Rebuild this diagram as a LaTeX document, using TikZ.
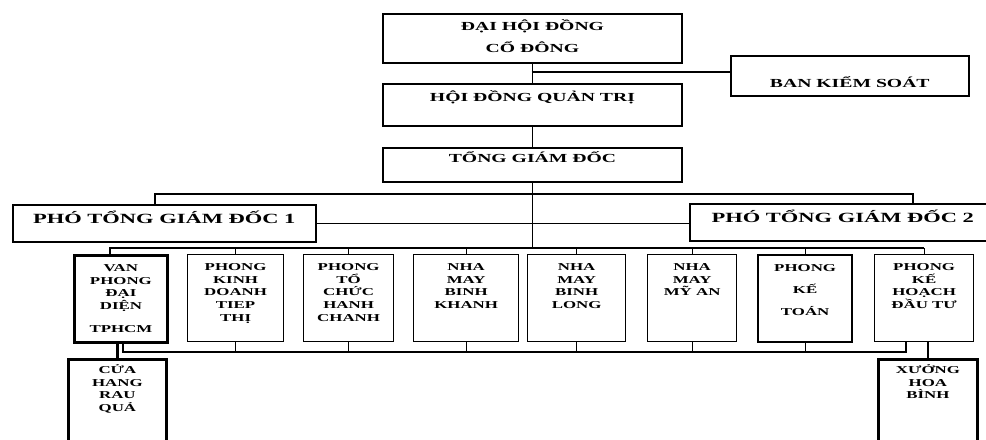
\documentclass[tikz,border=0pt]{standalone}
\usepackage{fontspec}
\setmainfont[FakeStretch=1.6]{Liberation Serif}
\newlength{\px}
\setlength{\px}{0.02cm}
% box text: height, width, top gap (all in px), lines
\newcommand{\boxtxt}[4]{\parbox[c][#1\px][t]{#2\px}{\centering\vspace*{#3\px}\rule{0pt}{1em}#4}}
\tikzset{
  orgbox/.style={draw, line width=1.1pt, inner sep=0pt, anchor=north west},
  topbox/.style={orgbox, font=\fontsize{7}{13}\selectfont\bfseries},
  vpbox/.style={orgbox, line width=0.9pt, font=\fontsize{8}{9.6}\selectfont\bfseries},
  deptbox/.style={orgbox, line width=0.7pt, font=\fontsize{6}{7.2}\selectfont\bfseries},
  heavy/.style={line width=1.6pt},
  wire/.style={line width=0.6pt},
}
\begin{document}
\begin{tikzpicture}[x=0.02cm, y=-0.02cm]
    \useasboundingbox[fill=white] (0,0) rectangle (986,439);
    % board level
    \node[topbox] (dh) at (382,13) {\boxtxt{49}{299}{3.8}{ĐẠI HỘI ĐỒNG\\CỔ ĐÔNG}};
    \node[topbox] (hd) at (382,83) {\boxtxt{42}{299}{4.8}{HỘI ĐỒNG QUẢN TRỊ}};
    \node[topbox, line width=0.9pt] (bks) at (730,55) {\boxtxt{40}{238}{19}{BAN KIỂM SOÁT}};
    \node[topbox] (tgd) at (382,147) {\boxtxt{34}{299}{1.8}{TỔNG GIÁM ĐỐC}};
    \node[vpbox] (p1) at (12,204) {\boxtxt{37}{303}{4.2}{PHÓ TỔNG GIÁM ĐỐC 1}};
    \node[vpbox] (p2) at (689,203) {\boxtxt{37}{306}{4.2}{PHÓ TỔNG GIÁM ĐỐC 2}};
    % departments
    \node[deptbox, heavy] (d1) at (73,254) {\boxtxt{87}{93}{5.4}{VAN\\PHONG\\ĐẠI\\DIỆN\\[5.8pt]TPHCM}};
    \node[deptbox] (d2) at (187,254) {\boxtxt{87}{96}{5.4}{PHONG\\KINH\\DOANH\\TIEP\\THỊ}};
    \node[deptbox] (d3) at (303,254) {\boxtxt{87}{90}{5.4}{PHONG\\TỔ\\CHỨC\\HANH\\CHANH}};
    \node[deptbox] (d4) at (413,254) {\boxtxt{87}{105}{5.4}{NHA\\MAY\\BINH\\KHANH}};
    \node[deptbox] (d5) at (527,254) {\boxtxt{87}{98}{5.4}{NHA\\MAY\\BINH\\LONG}};
    \node[deptbox] (d6) at (647,254) {\boxtxt{87}{89}{5.4}{NHA\\MAY\\MỸ AN}};
    \node[deptbox, line width=1.3pt] (d7) at (757,254) {\boxtxt{87}{94}{5.4}{PHONG\\[5.3pt]KẾ\\[5.3pt]TOÁN}};
    \node[deptbox] (d8) at (874,254) {\boxtxt{87}{99}{5.4}{PHONG\\KẾ\\HOẠCH\\ĐẦU TƯ}};
    \node[deptbox, heavy] (cua) at (67,358) {\boxtxt{87}{98}{3.4}{CỬA\\HANG\\RAU\\QUẢ}};
    \node[deptbox, heavy] (xw) at (877,358) {\boxtxt{87}{99}{3.4}{XƯỞNG\\HOA\\BÌNH}};
    % links
    \coordinate (k) at (531.5,72);
    \coordinate (b1) at (155,194);
    \coordinate (b2) at (913,194);
    \coordinate (t) at (110,248);
    \coordinate (u1) at (123,352);
    \coordinate (u2) at (906,352);
    \draw[line width=1.1pt] (dh.south) -- (hd.north);
    \draw[line width=0.8pt] (k) -- (k -| bks.west);
    \draw[line width=0.8pt] (hd.south) -- (tgd.north);
    \draw[wire] (b1 |- p1.north) -- (b1) -- (b2) -- (b2 |- p2.north);
    \draw[wire] (p1.east) -- (p1.east -| p2.west);
    \draw[line width=0.8pt] (tgd.south) -- (tgd.south |- t);
    \draw[wire] (t |- d1.north) -- (t) -- (t -| d8.north);
    \foreach \i in {2,...,8}
        \draw[wire] (d\i.north) -- (d\i.north |- t);
    \draw[wire] (u1 |- d1.south) -- (u1) -- (u2) -- (u2 |- d8.south);
    \foreach \i in {2,...,7}
        \draw[wire] (d\i.south) -- (d\i.south |- u1);
    \draw[heavy] (cua.north) -- (cua.north |- d1.south);
    \draw[heavy] (xw.north) -- (xw.north |- d8.south);
\end{tikzpicture}
\end{document}
